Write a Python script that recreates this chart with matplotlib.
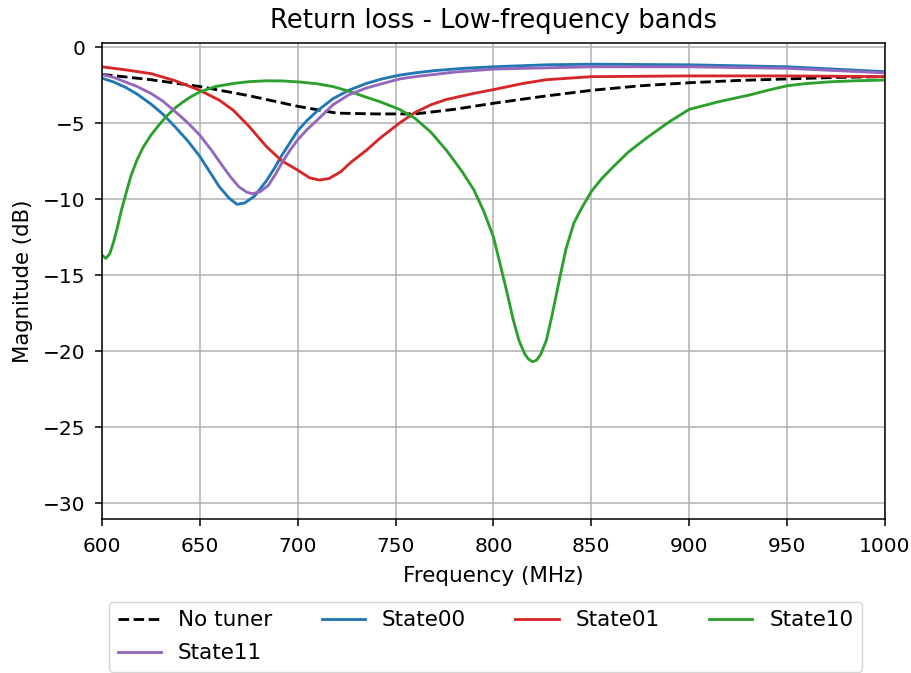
import matplotlib
matplotlib.use("Agg")
import matplotlib.pyplot as plt

# values (frequency in MHz, magnitude in dB)
freq_none = [600, 625, 650, 675, 700, 720, 740, 760, 780, 800, 825, 850,
             875, 900, 925, 950, 975, 1000]
mag_none = [-1.8, -2.15, -2.6, -3.2, -3.9, -4.35, -4.4, -4.4, -4.1, -3.7,
            -3.25, -2.85, -2.55, -2.35, -2.2, -2.1, -2.0, -1.95]

freq_s00 = [600, 606, 612, 618, 625, 631, 637, 644, 650, 655, 660, 665, 669,
            673, 678, 684, 688, 692, 696, 700, 705, 710, 718, 726, 735, 743,
            752, 760, 770, 785, 800, 827, 850, 900, 950, 1000]
mag_s00 = [-2.05, -2.3, -2.65, -3.1, -3.75, -4.4, -5.2, -6.2, -7.2, -8.2,
           -9.2, -9.95, -10.35, -10.25, -9.8, -8.8, -8.0, -7.1, -6.3, -5.5,
           -4.8, -4.2, -3.4, -2.85, -2.4, -2.1, -1.85, -1.7, -1.55, -1.4,
           -1.3, -1.17, -1.13, -1.17, -1.3, -1.62]

freq_s01 = [600, 612, 625, 637, 650, 660, 667, 675, 684, 692, 700, 706, 711,
            716, 722, 727, 735, 742, 752, 760, 768, 776, 790, 800, 815, 827,
            850, 900, 950, 1000]
mag_s01 = [-1.3, -1.5, -1.75, -2.2, -2.85, -3.5, -4.15, -5.2, -6.55, -7.5,
           -8.1, -8.6, -8.75, -8.65, -8.2, -7.6, -6.8, -6.0, -5.0, -4.3,
           -3.8, -3.45, -3.05, -2.8, -2.4, -2.15, -1.95, -1.9, -1.9, -1.95]

freq_s10 = [600, 602, 604, 606, 608, 610, 613, 615, 618, 621, 625, 629, 633,
            637, 641, 645, 650, 658, 667, 675, 684, 692, 701, 710, 718, 726,
            735, 742, 752, 760, 768, 776, 784, 790, 795, 800, 804, 807, 810,
            813, 816, 818, 820, 822, 824, 827, 830, 834, 837, 841, 845, 850,
            855, 861, 869, 878, 890, 900, 915, 931, 940, 950, 960, 973, 985,
            1000]
mag_s10 = [-13.7, -13.9, -13.6, -12.8, -11.8, -10.7, -9.3, -8.4, -7.4, -6.6,
           -5.8, -5.15, -4.55, -4.05, -3.65, -3.3, -2.95, -2.6, -2.4, -2.28,
           -2.22, -2.23, -2.3, -2.42, -2.6, -2.9, -3.3, -3.6, -4.1, -4.7,
           -5.6, -6.8, -8.2, -9.4, -10.8, -12.5, -14.6, -16.2, -17.9, -19.3,
           -20.2, -20.55, -20.7, -20.6, -20.25, -19.3, -17.6, -15.1, -13.3,
           -11.6, -10.6, -9.5, -8.7, -7.9, -6.9, -6.0, -4.9, -4.1, -3.6,
           -3.15, -2.85, -2.55, -2.4, -2.28, -2.22, -2.17]

freq_s11 = [600, 606, 612, 618, 625, 631, 637, 644, 650, 656, 662, 666, 670,
            674, 677, 681, 685, 689, 692, 696, 700, 705, 710, 718, 726, 735,
            742, 752, 760, 780, 800, 850, 900, 950, 1000]
mag_s11 = [-1.8, -2.0, -2.3, -2.6, -3.05, -3.55, -4.2, -5.0, -5.8, -6.8,
           -7.9, -8.6, -9.2, -9.55, -9.65, -9.5, -9.1, -8.3, -7.6, -6.8,
           -6.1, -5.4, -4.8, -3.8, -3.15, -2.7, -2.45, -2.1, -1.95, -1.65,
           -1.45, -1.3, -1.3, -1.4, -1.7]

lw = 2.05

fig = plt.figure(figsize=(9.12, 6.73), dpi=100)
ax = fig.add_axes([0.1118, 0.2288, 0.8586, 0.7072])

ax.plot(freq_none, mag_none, "k--", lw=lw, label="No tuner")
ax.plot(freq_s00, mag_s00, color="tab:blue", lw=lw, label="State00")
ax.plot(freq_s01, mag_s01, color="tab:red", lw=lw, label="State01")
ax.plot(freq_s10, mag_s10, color="tab:green", lw=lw, label="State10")
ax.plot(freq_s11, mag_s11, color="tab:purple", lw=lw, label="State11")

ax.set_xlim(600, 1000)
ax.set_ylim(-31.05, 0.26)
ax.set_xticks([600, 650, 700, 750, 800, 850, 900, 950, 1000])
ax.set_yticks([0, -5, -10, -15, -20, -25, -30])
ax.grid(True, lw=1.1, color="#b0b0b0")
ax.tick_params(labelsize=14.5, length=4.8, width=1.1)
ax.tick_params(axis="x", pad=8)
ax.tick_params(axis="y", pad=6.8)
for s in ax.spines.values():
    s.set_linewidth(1.1)

ax.set_title("Return loss - Low-frequency bands", fontsize=18.6, pad=11)
ax.set_xlabel("Frequency (MHz)", fontsize=15.5, labelpad=7.5)
ax.set_ylabel("Magnitude (dB)", fontsize=15.3, labelpad=7.5)

# row-wise order like the reference: No tuner, State00, State01, State10 / State11
h, l = ax.get_legend_handles_labels()
order = [0, 4, 1, 2, 3]
ax.legend([h[i] for i in order], [l[i] for i in order],
          loc="upper center", bbox_to_anchor=(0.49, -0.151), ncol=4,
          fontsize=15.5, handlelength=2.0, columnspacing=2.3,
          labelspacing=0.6)

fig.savefig("out.png", dpi=100)
